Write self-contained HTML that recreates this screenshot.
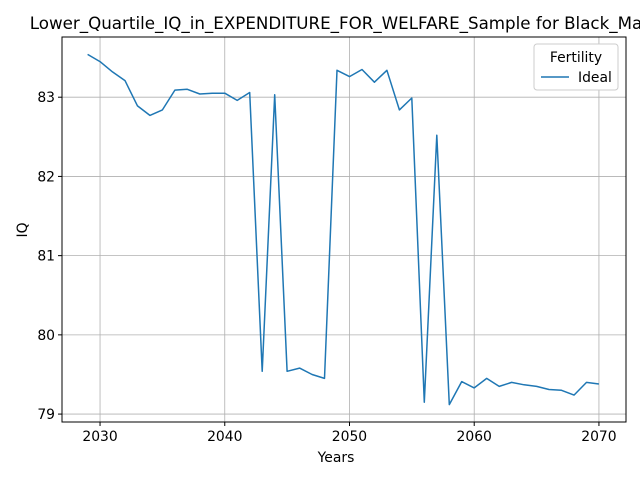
<!DOCTYPE html>
<html><head><meta charset="utf-8"><style>
body{margin:0;background:#fff}
svg{display:block;font-family:"DejaVu Sans","Liberation Sans",sans-serif}
</style></head><body>
<svg id="chart" width="640" height="480">
<text x="336" y="29" font-size="16.7" text-anchor="middle">Lower_Quartile_IQ_in_EXPENDITURE_FOR_WELFARE_Sample for Black_Ma</text>
<g id="grid"></g>
<g id="ticks"></g>
<rect x="62" y="37" width="564" height="385" fill="none" stroke="#000" stroke-width="1"/>
<text x="336" y="462" font-size="13.9" text-anchor="middle">Years</text>
<text transform="translate(27,230) rotate(-90)" font-size="13.9" text-anchor="middle">IQ</text>
<g>
<rect x="534" y="44" width="84" height="46" rx="3" fill="#fff" stroke="#ccc"/>
<text x="576" y="62" font-size="13.9" text-anchor="middle">Fertility</text>
<line x1="541" y1="77" x2="569" y2="77" stroke="#1f77b4" stroke-width="1.5"/>
<text x="578" y="82" font-size="13.9">Ideal</text>
</g>
</svg>
<script>
const years=[2029,2030,2031,2032,2033,2034,2035,2036,2037,2038,2039,2040,2041,2042,2043,2044,2045,2046,2047,2048,2049,2050,2051,2052,2053,2054,2055,2056,2057,2058,2059,2060,2061,2062,2063,2064,2065,2066,2067,2068,2069,2070];
const iqValues=[83.54,83.45,83.32,83.21,82.89,82.77,82.84,83.09,83.10,83.04,83.05,83.05,82.96,83.06,79.54,83.03,79.54,79.58,79.50,79.45,83.34,83.26,83.35,83.19,83.34,82.84,82.99,79.15,82.52,79.12,79.41,79.33,79.45,79.35,79.40,79.37,79.35,79.31,79.30,79.24,79.40,79.38];
const xTicks=[2030,2040,2050,2060,2070];
const yTicks=[79,80,81,82,83];
const X0=62,X1=626,Y0=37,Y1=422,xmin=2026.95,xmax=2072.17,ymin=78.9,ymax=83.76;
const xs=v=>X0+(v-xmin)/(xmax-xmin)*(X1-X0);
const ys=v=>Y1-(v-ymin)/(ymax-ymin)*(Y1-Y0);
const NS="http://www.w3.org/2000/svg";
const svg=document.getElementById('chart'),grid=document.getElementById('grid'),tk=document.getElementById('ticks');
function mk(t,a,p){const e=document.createElementNS(NS,t);for(const k in a)e.setAttribute(k,a[k]);p.appendChild(e);return e;}
xTicks.forEach(v=>{const x=xs(v);
 const g=mk('line',{x1:x,x2:x,y1:Y0,y2:Y1,stroke:'#b0b0b0','stroke-width':0.8},grid);
 
 
 const t=mk('line',{x1:x,x2:x,y1:Y1,y2:Y1+4,stroke:'#000'},tk);
 
 
 const l=mk('text',{x:x,y:Y1+19,'font-size':13.9,'text-anchor':'middle'},tk);l.textContent=v;
 
 
});
yTicks.forEach(v=>{const y=ys(v);
 const g=mk('line',{x1:X0,x2:X1,y1:y,y2:y,stroke:'#b0b0b0','stroke-width':0.8},grid);
 
 
 const t=mk('line',{x1:X0-4,x2:X0,y1:y,y2:y,stroke:'#000'},tk);
 
 
 const l=mk('text',{x:X0-7,y:y+5,'font-size':13.9,'text-anchor':'end'},tk);l.textContent=v;
 
 
});
const pts=years.map((y,i)=>xs(y).toFixed(1)+','+ys(iqValues[i]).toFixed(1)).join(' ');
const line=mk('polyline',{points:pts,fill:'none',stroke:'#1f77b4','stroke-width':1.5,'stroke-linejoin':'round'},svg);


</script>
</body></html>
